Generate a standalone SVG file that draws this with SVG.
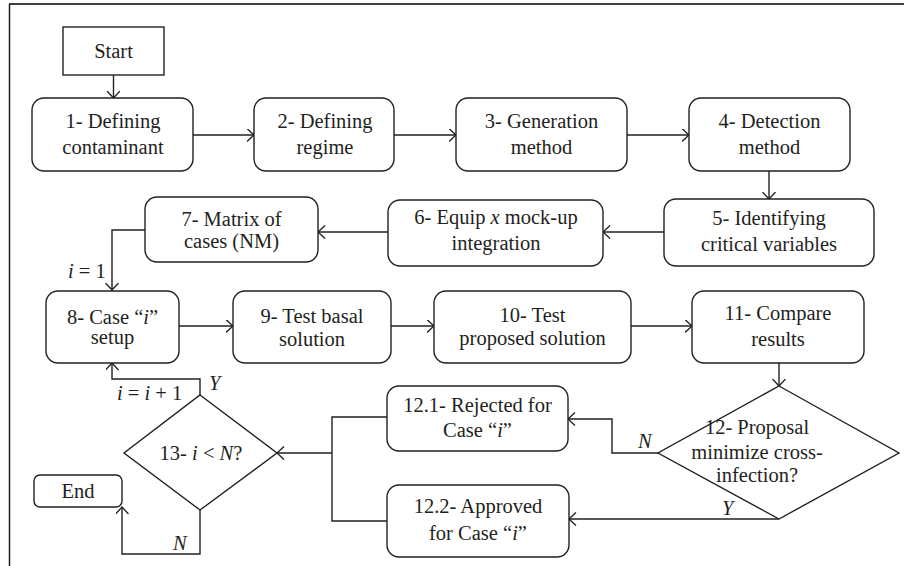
<svg xmlns="http://www.w3.org/2000/svg" width="904" height="566" viewBox="0 0 904 566">
<defs>
<style>
.b{fill:#fff;stroke:#231f20;stroke-width:1.4}
.t{font-family:"Liberation Serif","Times New Roman",serif;font-size:20.5px;fill:#231f20;text-anchor:middle}
.l{font-family:"Liberation Serif","Times New Roman",serif;font-size:20.5px;fill:#231f20}
.c{fill:none;stroke:#231f20;stroke-width:1.4}
.a{marker-end:url(#ah)}
.i{font-style:italic}
</style>
<marker id="ah" markerUnits="userSpaceOnUse" markerWidth="10" markerHeight="16" refX="7.5" refY="6.5" orient="auto">
<path d="M0.5,0 L7.5,6.5 L0.5,13" fill="none" stroke="#231f20" stroke-width="1.3"/>
</marker>
</defs>
<rect width="904" height="566" fill="#fff"/>
<g id="frame">
<line x1="9" y1="4" x2="904" y2="4" stroke="#404040" stroke-width="2"/>
<line x1="9.5" y1="4" x2="9.5" y2="566" stroke="#231f20" stroke-width="1.5"/>
</g>
<g id="connectors">
<path class="c a" d="M113.5,75 V98"/>
<path class="c a" d="M193,135 H254"/>
<path class="c a" d="M394,135 H456"/>
<path class="c a" d="M627,135 H689"/>
<path class="c a" d="M769,171 V199"/>
<path class="c a" d="M664,232 H603"/>
<path class="c a" d="M388,232 H318"/>
<path class="c a" d="M145,230 H112 V290"/>
<path class="c a" d="M179,326 H233"/>
<path class="c a" d="M391,326 H434"/>
<path class="c a" d="M631,326 H692"/>
<path class="c a" d="M779,363 V386"/>
<path class="c a" d="M658,453 H612 V419 H568"/>
<path class="c a" d="M779,519 H569"/>
<path class="c" d="M387,417 H332 V521 H387"/>
<path class="c a" d="M332,453 H277"/>
<path class="c a" d="M200,395 V379 H112 V363"/>
<path class="c a" d="M200,510 V554 H122 V507"/>
<text class="l" x="68" y="278"><tspan class="i">i</tspan> = 1</text>
<text class="l i" x="209" y="390">Y</text>
<text class="l" x="117" y="400"><tspan class="i">i</tspan> = <tspan class="i">i</tspan> + 1</text>
<text class="l i" x="173" y="550">N</text>
<text class="l i" x="638" y="448">N</text>
<text class="l i" x="722" y="515">Y</text>
</g>
<g id="start"><rect class="b" x="63" y="27" width="101" height="48"/><text class="t" x="113.5" y="58">Start</text></g>
<g id="n1"><rect class="b" x="32" y="98" width="161" height="73" rx="12"/><text class="t" x="113" y="128">1- Defining</text><text class="t" x="113" y="154">contaminant</text></g>
<g id="n2"><rect class="b" x="254" y="98" width="140" height="73" rx="12"/><text class="t" x="325" y="128">2- Defining</text><text class="t" x="325" y="154">regime</text></g>
<g id="n3"><rect class="b" x="456" y="98" width="171" height="73" rx="12"/><text class="t" x="541.5" y="128">3- Generation</text><text class="t" x="541.5" y="154">method</text></g>
<g id="n4"><rect class="b" x="689" y="98" width="161" height="73" rx="12"/><text class="t" x="769.5" y="128">4- Detection</text><text class="t" x="769.5" y="154">method</text></g>
<g id="n5"><rect class="b" x="664" y="199" width="210" height="67" rx="12"/><text class="t" x="769" y="225">5- Identifying</text><text class="t" x="769" y="251">critical variables</text></g>
<g id="n6"><rect class="b" x="388" y="200" width="215" height="66" rx="12"/><text class="t" x="496" y="224">6- Equip <tspan class="i">x</tspan> mock-up</text><text class="t" x="496" y="250">integration</text></g>
<g id="n7"><rect class="b" x="145" y="197" width="173" height="65" rx="12"/><text class="t" x="231.5" y="226">7- Matrix of</text><text class="t" x="231.5" y="248">cases (NM)</text></g>
<g id="n8"><rect class="b" x="46" y="291" width="133" height="72" rx="12"/><text class="t" x="112.5" y="324">8- Case “<tspan class="i">i</tspan>”</text><text class="t" x="112.5" y="344">setup</text></g>
<g id="n9"><rect class="b" x="233" y="291" width="158" height="72" rx="12"/><text class="t" x="312" y="323">9- Test basal</text><text class="t" x="312" y="346">solution</text></g>
<g id="n10"><rect class="b" x="434" y="291" width="197" height="72" rx="12"/><text class="t" x="532.5" y="322">10- Test</text><text class="t" x="532.5" y="345">proposed solution</text></g>
<g id="n11"><rect class="b" x="692" y="291" width="172" height="72" rx="12"/><text class="t" x="778" y="320">11- Compare</text><text class="t" x="778" y="346">results</text></g>
<g id="n12"><path class="b" d="M779,386 L899,453 L779,519 L658,453 Z"/><text class="t" x="757" y="434">12- Proposal</text><text class="t" x="757" y="459">minimize cross-</text><text class="t" x="757" y="482">infection?</text></g>
<g id="n12_1"><rect class="b" x="387" y="386" width="181" height="65" rx="12"/><text class="t" x="477.5" y="412">12.1- Rejected for</text><text class="t" x="477.5" y="437">Case “<tspan class="i">i</tspan>”</text></g>
<g id="n12_2"><rect class="b" x="387" y="485" width="182" height="72" rx="12"/><text class="t" x="478" y="513">12.2- Approved</text><text class="t" x="478" y="540">for Case “<tspan class="i">i</tspan>”</text></g>
<g id="n13"><path class="b" d="M200,395 L277,453 L200,510 L124,453 Z"/><text class="t" x="201" y="460">13- <tspan class="i">i</tspan> &lt; <tspan class="i">N</tspan>?</text></g>
<g id="end"><rect class="b" x="34" y="475" width="88" height="32" rx="6"/><text class="t" x="78" y="498">End</text></g>
</svg>
